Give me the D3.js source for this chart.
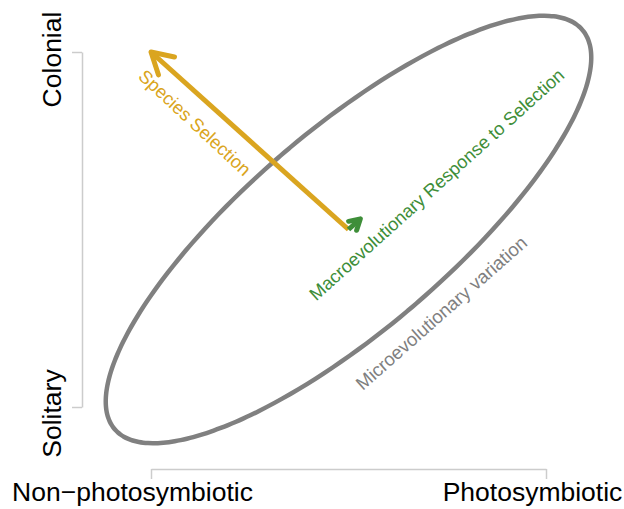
<!DOCTYPE html>
<html>
<head>
<meta charset="utf-8">
<script src="https://cdn.jsdelivr.net/npm/d3@7"></script>
<style>
  html, body { margin: 0; padding: 0; background: #fff; }
  svg { display: block; }
  text { font-family: "Liberation Sans", Arial, Helvetica, sans-serif; }
</style>
</head>
<body>
<svg id="chart" width="624" height="509"></svg>
<script>
// ---- data ----
const xTickValues = [0, 1];
const xTickLabels = ["Non\u2212photosymbiotic", "Photosymbiotic"];
const yTickValues = [0, 1];
const yTickLabels = ["Solitary", "Colonial"];

// ellipse (microevolutionary variation): centre and conjugate semi-axes, data units
const ellipseCenter = [0.5, 0.5];
const ellipseAxisMajor = [0.59, 0.565];
const ellipseAxisMinor = [0.172, -0.208];

// arrows: [x0, y0, x1, y1] in data units
const speciesSelection = [0.5, 0.5, 0.0, 1.0];
const macroResponse = [0.5, 0.5, 0.53, 0.53];

const labelTexts = ["Species Selection", "Macroevolutionary Response to Selection", "Microevolutionary variation"];

// ---- layout ----
const svg = d3.select("#chart");
const x = d3.scaleLinear().domain([0, 1]).range([151, 546]);
const y = d3.scaleLinear().domain([0, 1]).range([407, 52]);

const axisColor = "#cccccc";
const fontSize = 26.5;

// x axis
const xAxisG = svg.append("g").attr("transform", "translate(0,469)")
  .call(d3.axisBottom(x).tickValues(xTickValues).tickSize(10).tickSizeOuter(0)
    .tickFormat((d, i) => xTickLabels[i]));
xAxisG.select(".domain").attr("stroke", axisColor).attr("stroke-width", 1.5);
xAxisG.selectAll(".tick line").attr("stroke", axisColor).attr("stroke-width", 1.5);
xAxisG.selectAll(".tick text")
  .attr("fill", "#000").attr("font-size", fontSize)
  .attr("font-family", "Liberation Sans, Arial, Helvetica, sans-serif")
  .attr("y", 32).attr("dy", 0)
  .attr("dx", (d, i) => i === 0 ? -19 : -14);

// y axis
const yAxisG = svg.append("g").attr("transform", "translate(82,0)")
  .call(d3.axisLeft(y).tickValues(yTickValues).tickSize(10).tickSizeOuter(0)
    .tickFormat((d, i) => yTickLabels[i]));
yAxisG.select(".domain").attr("stroke", axisColor).attr("stroke-width", 1.5);
yAxisG.selectAll(".tick line").attr("stroke", axisColor).attr("stroke-width", 1.5);
yAxisG.selectAll(".tick text")
  .attr("fill", "#000").attr("font-size", fontSize)
  .attr("font-family", "Liberation Sans, Arial, Helvetica, sans-serif")
  .attr("x", 0).attr("dy", 0).attr("dx", 0)
  .attr("text-anchor", "middle")
  .attr("transform", (d, i) => `translate(-21,${i === 0 ? 6 : 7}) rotate(-90)`);

// ellipse
const steps = d3.range(0, 360, 2);
const ellipsePts = steps.map(deg => {
  const t = deg * Math.PI / 180;
  return [
    ellipseCenter[0] + ellipseAxisMajor[0] * Math.cos(t) + ellipseAxisMinor[0] * Math.sin(t),
    ellipseCenter[1] + ellipseAxisMajor[1] * Math.cos(t) + ellipseAxisMinor[1] * Math.sin(t)
  ];
});
svg.append("path")
  .attr("d", d3.line().x(d => x(d[0])).y(d => y(d[1])).curve(d3.curveCardinalClosed)(ellipsePts))
  .attr("fill", "none").attr("stroke", "#808080").attr("stroke-width", 4.5);

// arrows
function arrow(a, color, width, headLen) {
  const x0 = x(a[0]), y0 = y(a[1]), x1 = x(a[2]), y1 = y(a[3]);
  const ang = Math.atan2(y1 - y0, x1 - x0);
  const spread = Math.PI / 6;
  const b1 = [x1 - headLen * Math.cos(ang - spread), y1 - headLen * Math.sin(ang - spread)];
  const b2 = [x1 - headLen * Math.cos(ang + spread), y1 - headLen * Math.sin(ang + spread)];
  const g = svg.append("g").attr("stroke", color).attr("stroke-width", width)
    .attr("fill", "none").attr("stroke-linecap", "round").attr("stroke-linejoin", "round");
  g.append("line").attr("x1", x0).attr("y1", y0).attr("x2", x1).attr("y2", y1).attr("stroke-linecap", "butt");
  g.append("path").attr("d", `M${b1[0]},${b1[1]}L${x1},${y1}L${b2[0]},${b2[1]}`);
}
arrow(speciesSelection, "#daa520", 5, 24);
arrow(macroResponse, "#3e8e39", 5, 12);

// labels
function label(txt, dx, dy, rot, color, size) {
  svg.append("text")
    .attr("transform", `translate(${x(dx)},${y(dy)}) rotate(${rot})`)
    .attr("text-anchor", "middle").attr("dy", "0.35em")
    .attr("font-size", size).attr("fill", color).text(txt);
}
label(labelTexts[0], 0.111, 0.801, 43, "#daa520", 18.3);
label(labelTexts[1], 0.723, 0.627, -42, "#3e8e39", 18.2);
label(labelTexts[2], 0.735, 0.265, -41.5, "#808080", 18.6);
</script>
</body>
</html>
